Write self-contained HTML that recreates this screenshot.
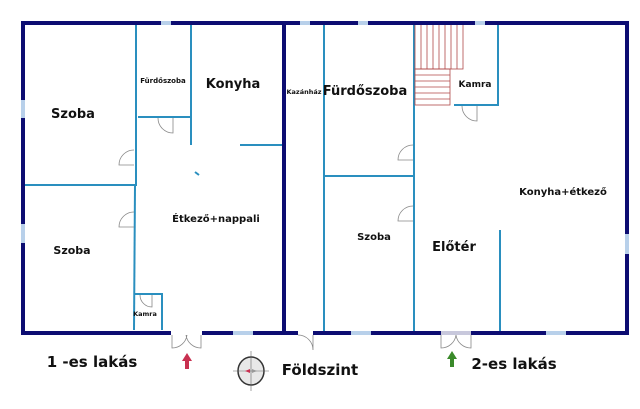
<!DOCTYPE html>
<html><head><meta charset="utf-8"><style>
html,body{margin:0;padding:0;background:#fff;}
svg{display:block}
text{font-family:"DejaVu Sans","Liberation Sans",sans-serif;font-weight:bold;fill:#111;text-anchor:middle}
</style></head><body>
<svg width="640" height="409" viewBox="0 0 640 409" xmlns="http://www.w3.org/2000/svg">
<!-- inner walls -->
<g stroke="#2a8fbf" stroke-width="2" fill="none">
<line x1="136" y1="23" x2="136" y2="185"/>
<line x1="135" y1="185" x2="134" y2="330"/>
<line x1="23" y1="185" x2="137" y2="185"/>
<line x1="191" y1="23" x2="191" y2="145"/>
<line x1="138" y1="117" x2="191" y2="117"/>
<line x1="240" y1="145" x2="284" y2="145"/>
<line x1="195" y1="172" x2="199" y2="175"/>
<polyline points="134,294 162,294 162,330"/>
<line x1="324" y1="23" x2="324" y2="333"/>
<line x1="414" y1="23" x2="414" y2="333"/>
<line x1="324" y1="176" x2="414" y2="176"/>
<polyline points="498,23 498,105 454,105"/>
<line x1="500" y1="230" x2="500" y2="333"/>
</g>
<!-- stairs -->
<g stroke="#b04848" stroke-width="0.8" fill="none">
<rect x="415" y="24" width="48" height="45"/>
<line x1="421" y1="24" x2="421" y2="69"/><line x1="427" y1="24" x2="427" y2="69"/><line x1="433" y1="24" x2="433" y2="69"/><line x1="439" y1="24" x2="439" y2="69"/><line x1="445" y1="24" x2="445" y2="69"/><line x1="451" y1="24" x2="451" y2="69"/><line x1="457" y1="24" x2="457" y2="69"/>
<rect x="415" y="69" width="35" height="36"/>
<line x1="415" y1="75" x2="450" y2="75"/><line x1="415" y1="81" x2="450" y2="81"/><line x1="415" y1="87" x2="450" y2="87"/><line x1="415" y1="93" x2="450" y2="93"/><line x1="415" y1="99" x2="450" y2="99"/>
</g>
<!-- outer walls -->
<g stroke="#0d0d72" stroke-width="4" fill="none">
<rect x="23" y="23" width="604" height="310"/>
<line x1="284" y1="23" x2="284" y2="333"/>
</g>
<!-- windows -->
<g fill="#b8d0ea">
<rect x="161" y="21" width="10" height="4"/><rect x="300" y="21" width="10" height="4"/><rect x="358" y="21" width="10" height="4"/><rect x="475" y="21" width="10" height="4"/>
<rect x="21" y="100" width="4" height="18"/><rect x="21" y="224" width="4" height="19"/><rect x="625" y="234" width="4" height="20"/>
<rect x="233" y="331" width="20" height="4"/><rect x="351" y="331" width="20" height="4"/><rect x="546" y="331" width="20" height="4"/>
<rect x="171" y="331" width="31" height="4" fill="#fff"/><rect x="298" y="331" width="15" height="4" fill="#fff"/><rect x="441" y="331" width="30" height="4" fill="#c8c8dc"/>
</g>
<!-- doors -->
<g stroke="#888" stroke-width="0.8" fill="none">
<path d="M134,150 A15,15 0 0 0 119,165 L134,165"/>
<path d="M134,212 A15,15 0 0 0 119,227 L134,227"/>
<path d="M158,118 A15,15 0 0 0 173,133 L173,118"/>
<path d="M140,295 A12,12 0 0 0 152,307 L152,295"/>
<path d="M413,145 A15,15 0 0 0 398,160 L413,160"/>
<path d="M413,206 A15,15 0 0 0 398,221 L413,221"/>
<path d="M462,106 A15,15 0 0 0 477,121 L477,106"/>
<path d="M172,335 L172,348 A15,15 0 0 0 187,335 M201,335 L201,348 A15,15 0 0 1 186,335"/>
<path d="M298,335 A15,15 0 0 1 313,350 L313,335"/>
<path d="M441,335 L441,348 A15,15 0 0 0 456,335 M471,335 L471,348 A15,15 0 0 1 456,335"/>
</g>
<!-- arrows -->
<path d="M187,353 L182,361 L185,361 L185,369 L189,369 L189,361 L192,361 Z" fill="#c83050"/>
<path d="M452,351 L447,359 L450,359 L450,367 L454,367 L454,359 L457,359 Z" fill="#3a8a2a"/>
<!-- compass -->
<g transform="translate(251,371)">
<ellipse cx="0" cy="0" rx="13" ry="14" fill="#e8e8e8" stroke="#333" stroke-width="1.5"/>
<line x1="0" y1="-20" x2="0" y2="20" stroke="#666" stroke-width="0.6"/>
<line x1="-18" y1="0" x2="18" y2="0" stroke="#666" stroke-width="0.6"/>
<path d="M-6,0 L-1,-2 L-1,2 Z" fill="#c83050"/>
<path d="M6,0 L1,-2 L1,2 Z" fill="#999"/>
</g>
<!-- labels -->
<text x="73" y="118" font-size="13">Szoba</text>
<text x="163" y="83" font-size="7">Fürdőszoba</text>
<text x="233" y="88" font-size="13">Konyha</text>
<text x="304" y="94" font-size="6.5">Kazánház</text>
<text x="365" y="95" font-size="13">Fürdőszoba</text>
<text x="475" y="87" font-size="9">Kamra</text>
<text x="563" y="195" font-size="10">Konyha+étkező</text>
<text x="216" y="222" font-size="10">Étkező+nappali</text>
<text x="72" y="254" font-size="11">Szoba</text>
<text x="374" y="240" font-size="10">Szoba</text>
<text x="454" y="251" font-size="13">Előtér</text>
<text x="145" y="316" font-size="6.5">Kamra</text>
<text x="92" y="367" font-size="15">1 -es lakás</text>
<text x="320" y="375" font-size="15">Földszint</text>
<text x="514" y="369" font-size="15">2-es lakás</text>
</svg>
</body></html>
